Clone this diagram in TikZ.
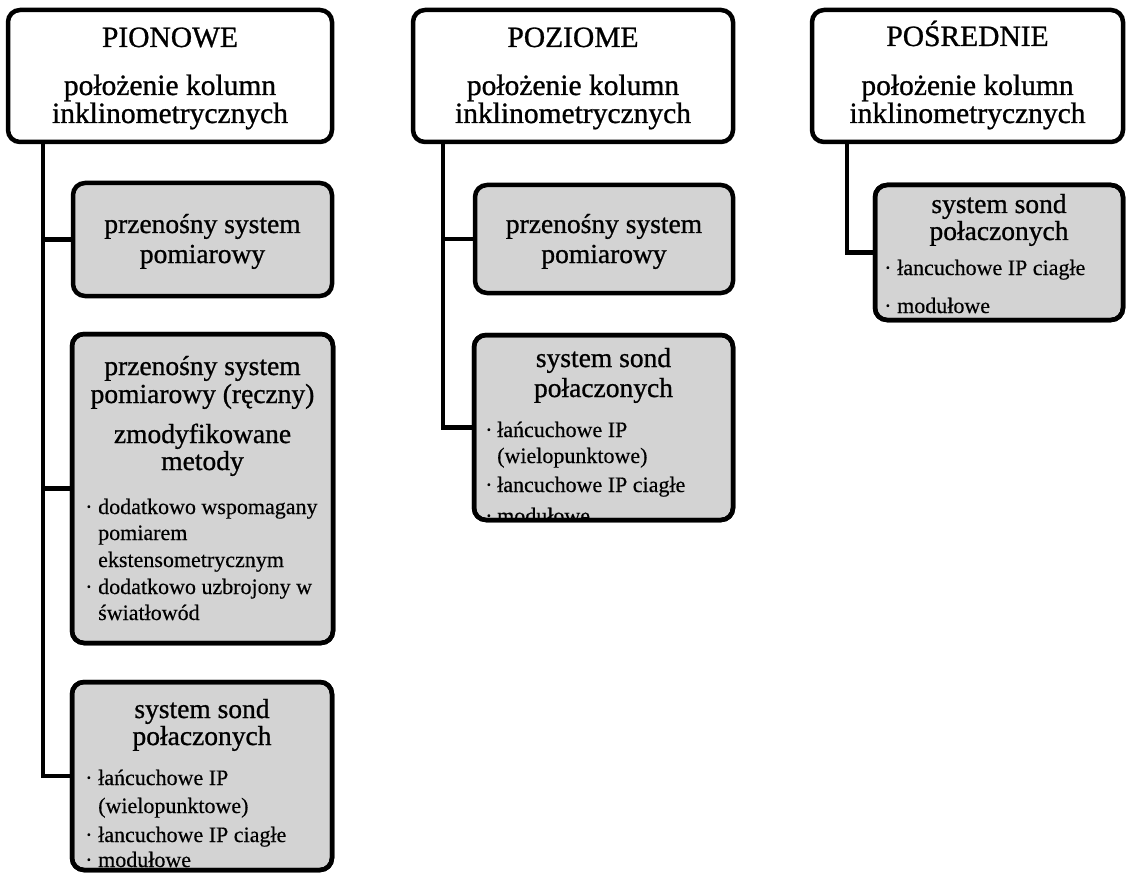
\documentclass[tikz,border=0pt]{standalone}
\usepackage{fontspec}
\setmainfont{Liberation Serif}
\newfontfamily\headfont[FakeBold=0.9]{Liberation Serif}
\newfontfamily\itemfont[FakeBold=0.4]{Liberation Serif}
\definecolor{boxgray}{RGB}{211,211,211}
\begin{document}
\begin{tikzpicture}[x=1pt,y=-1pt,
  box/.style={draw, line width=4.5pt, rounded corners=12pt, outer sep=0pt, inner sep=0pt},
  topbox/.style={box, fill=white},
  subbox/.style={box, fill=boxgray},
  frame/.style={draw, line width=4.5pt, rounded corners=12pt},
  conn/.style={line width=4.5pt},
  ttl/.style={anchor=base, font=\headfont\fontsize{29.5}{31}\selectfont, inner sep=0pt},
  sub/.style={anchor=base, font=\headfont\fontsize{27.5}{29}\selectfont, inner sep=0pt},
  itm/.style={anchor=base west, font=\itemfont\fontsize{22}{24}\selectfont, inner sep=0pt},
]
\useasboundingbox (0,0) rectangle (1126,877);

% boxes
\node[topbox, minimum width=324pt, minimum height=132pt] (p1) at (170,76) {};
\node[topbox, minimum width=320pt, minimum height=132pt] (p2) at (573,76) {};
\node[topbox, minimum width=311pt, minimum height=132pt] (p3) at (967.5,76) {};
\node[subbox, minimum width=259pt, minimum height=113pt] (c11) at (202.5,239.5) {};
\node[subbox, minimum width=261pt, minimum height=309pt] (c12) at (202.5,488.5) {};
\node[subbox, minimum width=260pt, minimum height=188pt] (c13) at (202,776) {};
\node[subbox, minimum width=258pt, minimum height=108pt] (c21) at (604,239) {};
\node[subbox, minimum width=259pt, minimum height=185pt] (c22) at (603.5,427.5) {};
\node[subbox, minimum width=248pt, minimum height=135pt] (c31) at (999,252.5) {};

% connectors
\coordinate (t1) at (43,142);
\coordinate (t2) at (443,142);
\coordinate (t3) at (847,142);
\draw[conn] (t1) |- (c13.west);
\draw[conn] (t1 |- c11.west) -- (c11.west);
\draw[conn] (t1 |- c12.west) -- (c12.west);
\draw[conn] (t2) |- (c22.west);
\draw[conn] (t2 |- c21.west) -- (c21.west);
\draw[conn] (t3) |- (c31.west);

% top titles
\node[ttl] (p1a) at (170,47) {PIONOWE};
\node[ttl] (p1b) at (170,95) {położenie kolumn};
\node[ttl] (p1c) at (170,123) {inklinometrycznych};
\node[ttl] (p2a) at (573,47) {POZIOME};
\node[ttl] (p2b) at (573,95) {położenie kolumn};
\node[ttl] (p2c) at (573,123) {inklinometrycznych};
\node[ttl] (p3a) at (967.5,46) {POŚREDNIE};
\node[ttl] (p3b) at (967.5,95) {położenie kolumn};
\node[ttl] (p3c) at (967.5,123) {inklinometrycznych};

% c11
\node[sub] (c11a) at (202.5,233) {przenośny system};
\node[sub] (c11b) at (202.5,263) {pomiarowy};

% c12
\begin{scope}
\clip[rounded corners=12pt] (c12.north west) rectangle (c12.south east);
\node[sub] (c12a) at (202.5,375) {przenośny system};
\node[sub] (c12b) at (202.5,403) {pomiarowy (ręczny)};
\node[sub] (c12c) at (202.5,443) {zmodyfikowane};
\node[sub] (c12d) at (202.5,470) {metody};
\node[itm] (c12e0) at (85,514) {·};
\node[itm] (c12e) at (98,514) {dodatkowo wspomagany};
\node[itm] (c12f) at (98,540) {pomiarem};
\node[itm] (c12g) at (98,567) {ekstensometrycznym};
\node[itm] (c12h0) at (85,594) {·};
\node[itm] (c12h) at (98,594) {dodatkowo uzbrojony w};
\node[itm] (c12i) at (98,620) {światłowód};
\end{scope}

% c13
\begin{scope}
\clip[rounded corners=12pt] (c13.north west) rectangle (c13.south east);
\node[sub] (c13a) at (202,718) {system sond};
\node[sub] (c13b) at (202,745) {połaczonych};
\node[itm] (c13c0) at (85,785) {·};
\node[itm] (c13c) at (98,785) {łańcuchowe IP};
\node[itm] (c13d) at (98,813) {(wielopunktowe)};
\node[itm] (c13e0) at (85,842) {·};
\node[itm] (c13e) at (98,842) {łancuchowe IP ciagłe};
\node[itm] (c13f0) at (85,867) {·};
\node[itm] (c13f) at (98,867) {modułowe};
\end{scope}

% c21
\node[sub] (c21a) at (604,233) {przenośny system};
\node[sub] (c21b) at (604,263) {pomiarowy};

% c22
\begin{scope}
\clip[rounded corners=12pt] (c22.north west) rectangle (c22.south east);
\node[sub] (c22a) at (603.5,367) {system sond};
\node[sub] (c22b) at (603.5,397) {połaczonych};
\node[itm] (c22c0) at (485,437) {·};
\node[itm] (c22c) at (497,437) {łańcuchowe IP};
\node[itm] (c22d) at (497,463) {(wielopunktowe)};
\node[itm] (c22e0) at (485,492) {·};
\node[itm] (c22e) at (497,492) {łancuchowe IP ciagłe};
\node[itm] (c22f0) at (485,523) {·};
\node[itm] (c22f) at (497,523) {modułowe};
\end{scope}

% c31
\begin{scope}
\clip[rounded corners=12pt] (c31.north west) rectangle (c31.south east);
\node[sub] (c31a) at (999,213) {system sond};
\node[sub] (c31b) at (999,240) {połaczonych};
\node[itm] (c31c0) at (884,275) {·};
\node[itm] (c31c) at (897,275) {łancuchowe IP ciagłe};
\node[itm] (c31d0) at (884,313) {·};
\node[itm] (c31d) at (897,313) {modułowe};
\end{scope}

% frames on top
\draw[frame] (c12.north west) rectangle (c12.south east);
\draw[frame] (c13.north west) rectangle (c13.south east);
\draw[frame] (c22.north west) rectangle (c22.south east);
\draw[frame] (c31.north west) rectangle (c31.south east);
\end{tikzpicture}
\end{document}
